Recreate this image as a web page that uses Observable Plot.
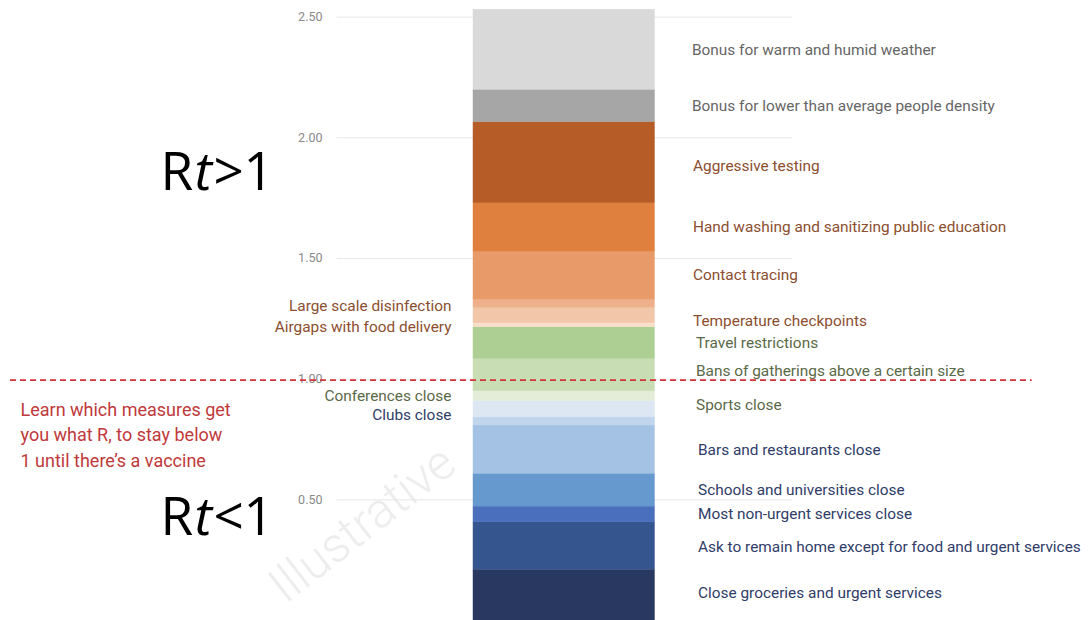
<!DOCTYPE html>
<html><head><meta charset="utf-8">
<script src="https://cdn.jsdelivr.net/npm/d3@7"></script>
<script src="https://cdn.jsdelivr.net/npm/@observablehq/plot@0.6"></script>
<style>html,body{margin:0;padding:0;background:#fff;overflow:hidden}</style>
</head><body>
<script>
// ---- data (bottom of the stack first) ----
const measures = [
  "Close groceries and urgent services",
  "Ask to remain home except for food and urgent services",
  "Most non-urgent services close",
  "Schools and universities close",
  "Bars and restaurants close",
  "Clubs close",
  "Sports close",
  "Conferences close",
  "Bans of gatherings above a certain size",
  "Travel restrictions",
  "Airgaps with food delivery",
  "Temperature checkpoints",
  "Large scale disinfection",
  "Contact tracing",
  "Hand washing and sanitizing public education",
  "Aggressive testing",
  "Bonus for lower than average people density",
  "Bonus for warm and humid weather"
];
const rContribution = [0.210, 0.197, 0.065, 0.136, 0.200, 0.034, 0.067, 0.041, 0.134, 0.131, 0.017, 0.064, 0.034, 0.199, 0.200, 0.336, 0.134, 0.332];
const measureGroup = ["closure","closure","closure","closure","closure","closure","distancing","distancing","distancing","distancing","hygiene","hygiene","hygiene","hygiene","hygiene","hygiene","bonus","bonus"];
const yTicks = [0.5, 1.0, 1.5, 2.0, 2.5];
const threshold = 1;
const zoneLabels = [">", "<"];
const noteText = "Learn which measures get\nyou what R, to stay below\n1 until there\u2019s a vaccine";
const watermark = "Illustrative";

// ---- styles / layout ----
const segmentColors = ["#283860","#35558f","#4a6fbd","#6699ce","#a4c2e4","#c1d5ec","#dce7f3","#e3edd7","#c8ddb3","#aecf93","#f8dfca","#f2c7a9","#eeb08b","#e89a68","#e0803e","#b65d27","#a6a6a6","#d9d9d9"];
const groupText = {closure: "#2f3c68", distancing: "#5a6947", hygiene: "#8c4e2f", bonus: "#666666"};
const groupDx = {closure: 43, distancing: 41, hygiene: 38, bonus: 37};
const leftSide = new Set(["Clubs close", "Conferences close", "Airgaps with food delivery", "Large scale disinfection"]);
const nudge = {"Clubs close": -6, "Sports close": -4, "Bans of gatherings above a certain size": -4,
  "Temperature checkpoints": 6, "Aggressive testing": 3, "Close groceries and urgent services": -2,
  "Airgaps with food delivery": 2, "Large scale disinfection": 2, "Ask to remain home except for food and urgent services": 1};

const W = 1089, H = 620;
const tops = d3.cumsum(rContribution);
const rows = measures.map((m, i) => ({measure: m, r: rContribution[i], group: measureGroup[i], mid: tops[i] - rContribution[i] / 2}));

const labelMarks = rows.map(d => {
  const left = leftSide.has(d.measure);
  return Plot.text([d], {
    x: left ? 0 : 1, y: "mid", text: "measure",
    textAnchor: left ? "end" : "start",
    dx: left ? -22 : groupDx[d.group],
    dy: nudge[d.measure] || 0,
    fill: groupText[d.group],
    fontSize: 15.4
  });
});

const bigFont = {fontFamily: "Open Sans", fontSize: 53, fill: "#000", frameAnchor: "top-left", textAnchor: "start", lineAnchor: "bottom"};
const zoneMarks = zoneLabels.flatMap((rel, k) => {
  const base = k === 0 ? 189 : 534;
  return [
    Plot.text(["R"], {...bigFont, text: d => d, dx: 160, dy: base}),
    Plot.text(["t"], {...bigFont, text: d => d, dx: 194, dy: base, fontStyle: "italic"}),
    Plot.text([rel], {...bigFont, text: d => d, dx: 213, dy: base}),
    Plot.text(["1"], {...bigFont, text: d => d, dx: 243, dy: base})
  ];
});

const chart = Plot.plot({
  width: W, height: H,
  marginTop: 0, marginBottom: 0, marginLeft: 0, marginRight: 0,
  style: {fontFamily: "Roboto", background: "#fff"},
  x: {domain: [-2.606, 3.394], axis: null},
  y: {domain: [0, 2.569], axis: null},
  color: {domain: measures, range: segmentColors},
  marks: [
    Plot.text([watermark], {text: d => d, frameAnchor: "top-left", dx: 362, dy: 524, rotate: -38, fontSize: 49, fill: "#ededed", textAnchor: "middle", lineAnchor: "middle", fontWeight: 300}),
    Plot.ruleY(yTicks, {x1: -0.752, x2: 1.756, stroke: "#e6e6e6", strokeWidth: 1}),
    Plot.text(yTicks, {x: -0.832, y: d => d, text: d3.format(".2f"), textAnchor: "end", fill: "#8a8a8a", fontSize: 12.5}),
    Plot.rectY(rows, Plot.stackY({x1: 0, x2: 1, y: "r", fill: "measure", stroke: "measure", strokeWidth: 0.4})),
    ...labelMarks,
    Plot.ruleY([threshold], {x1: -2.551, x2: 3.078, dy: 1, stroke: "#d2333a", strokeWidth: 1.6, strokeDasharray: "6,4"}),
    Plot.text([noteText], {text: d => d, frameAnchor: "left", y: threshold, dx: 20, dy: 54, textAnchor: "start", lineAnchor: "middle", lineHeight: 1.42, fontSize: 18, fill: "#c0393b"}),
    ...zoneMarks
  ]
});
document.body.appendChild(chart);
</script>
</body></html>
